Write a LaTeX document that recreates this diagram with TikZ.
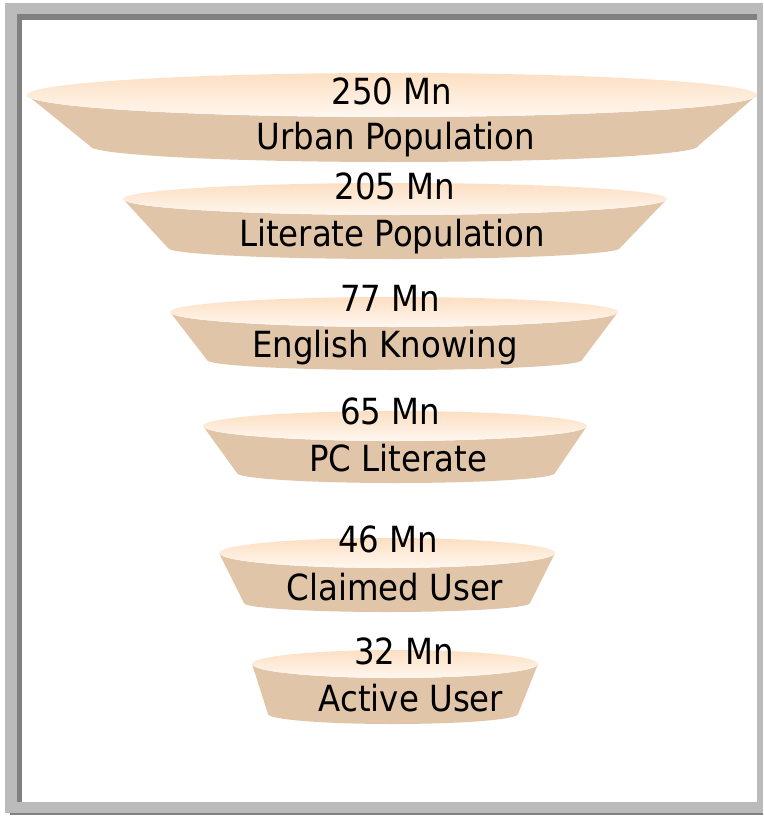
\documentclass[tikz,border=0pt]{standalone}
\usepackage{fontspec}
\setmainfont{DejaVu Sans Condensed}
\usepackage{tikz}
\usepackage{xcolor}
\definecolor{framelight}{HTML}{BBBBBB}
\definecolor{framedark}{HTML}{808080}
\definecolor{slicetan}{HTML}{E1C5A8}
\definecolor{slicepeach}{HTML}{FCDFC2}
\definecolor{slicecream}{HTML}{FFF7F0}

\begin{document}
\begin{tikzpicture}[x=1pt,y=-1pt,
    slicebody/.style={fill=slicetan},
    slicetop/.style={top color=slicepeach,bottom color=slicecream},
    figure/.style={font=\fontsize{36}{40}\selectfont,anchor=base,inner sep=0pt}]
      \useasboundingbox (0,0) rectangle (763,816);
      % frame
        \fill[framelight] (5,3) rectangle (763,813);
        \fill[framedark] (17,14) rectangle (757,20);
        \fill[framedark] (17,14) rectangle (22,802);
        \fill[white] (22,20) rectangle (757,802);
        \fill[framedark] (10,813) rectangle (763,815);
      % funnel slices: centre/radii of top, bottom corners, sag
        \foreach \cx/\cy/\rx/\ry/\bl/\br/\by/\bs in
            {392/95/365/22/90/698/146/16,
             395/199/272/16/168/620/248/11,
             394/312/224/15/207/582/360/10,
             395/426/192/15/237/555/473/10,
             387/553/168/15/244/530/603/9,
             395/664/143/14/268/518/714/10}
          {
          \fill[slicebody] (\cx-\rx,\cy) -- (\bl,\by)
                arc[start angle=180,end angle=0,x radius={(\br-\bl)/2},y radius=\bs]
                -- (\cx+\rx,\cy)
                arc[start angle=0,end angle=180,x radius=\rx,y radius=\ry] -- cycle;
          \shade[slicetop] (\cx,\cy) ellipse[x radius=\rx,y radius=\ry];
          }
      % labels
        \foreach \nm/\x/\y/\t in
            {urbannum/392/104/250 Mn, urbantxt/396/149/Urban Population,
             literatenum/395/199/205 Mn, literatetxt/392/246/Literate Population,
             englishnum/390/311/77 Mn, englishtxt/385/357/English Knowing,
             pcnum/390/424/65 Mn, pctxt/398/471/PC Literate,
             claimednum/388/552/46 Mn, claimedtxt/395/600/Claimed User,
             activenum/404/664/32 Mn, activetxt/411/711/Active User}
          \node[figure] (\nm) at (\x,\y) {\t};
      \end{tikzpicture}
\end{document}
